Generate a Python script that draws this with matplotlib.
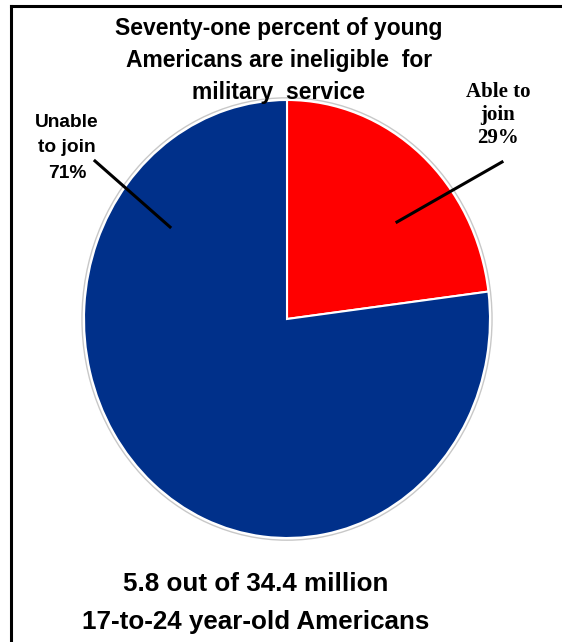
import matplotlib
matplotlib.use("Agg")
import matplotlib.pyplot as plt
from matplotlib.lines import Line2D
from matplotlib.patches import Ellipse

# data
categories = ["Able to join", "Unable to join"]
shares = [23, 77]          # drawn slice sizes
pct_labels = ["29%", "71%"]
colors = ["#FF0000", "#00308A"]
title = "Seventy-one percent of young\nAmericans are ineligible  for\nmilitary  service"
footer = "5.8 out of 34.4 million\n17-to-24 year-old Americans"

W, H = 562, 642
fig = plt.figure(figsize=(W / 100, H / 100), dpi=100)
fig.patch.set_facecolor("white")

def fx(x):
    return x / W

def fy(y):
    return 1 - y / H

# pie axes (slightly elliptical as in the reference)
left, right, top, bottom = 84, 490, 100, 538
ax = fig.add_axes([fx(left), fy(bottom), fx(right) - fx(left), fy(top) - fy(bottom)])
ax.pie(shares, colors=colors, startangle=90, counterclock=False,
       wedgeprops=dict(edgecolor="white", linewidth=1.5))
ax.set_aspect("auto")
ax.set_xlim(-1.0, 1.0)
ax.set_ylim(-1.0, 1.0)
ring = Ellipse((0, 0), 2.02, 2.02, facecolor="none", edgecolor="#c8c8c8", lw=1.0, clip_on=False)
ax.add_patch(ring)
ax.axis("off")

# frame lines (top and left)
fig.add_artist(Line2D([fx(11), 1.0], [fy(6), fy(6)], color="black", lw=2.2))
fig.add_artist(Line2D([fx(11), fx(11)], [fy(6), 0.0], color="black", lw=2.2))

# title
fig.text(fx(279), fy(60), title, ha="center", va="center", fontsize=16.5,
         fontweight="bold", family="Liberation Sans", linespacing=1.5)

# labels
fig.text(fx(498), fy(115), "Able to\njoin\n" + pct_labels[0],
         ha="center", va="center", fontsize=15, fontweight="bold",
         family="Liberation Serif", linespacing=1.2)
fig.text(fx(67), fy(148), "Unable\nto join\n" + pct_labels[1],
         ha="center", va="center", fontsize=13.8, fontweight="bold",
         family="Liberation Sans", linespacing=1.65)

# leader lines
fig.add_artist(Line2D([fx(502), fx(397)], [fy(162), fy(222)], color="black", lw=2.2))
fig.add_artist(Line2D([fx(95), fx(170)], [fy(161), fy(227)], color="black", lw=2.2))

# footer
fig.text(fx(256), fy(603), footer, ha="center", va="center", fontsize=18.7,
         fontweight="bold", family="Liberation Sans", linespacing=1.78)

fig.savefig("out.png", dpi=100, facecolor="white")
